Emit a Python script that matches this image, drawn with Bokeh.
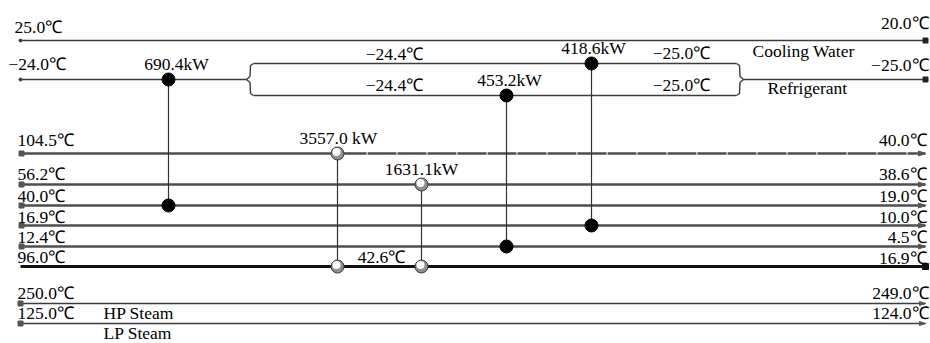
from bokeh.plotting import figure
from bokeh.models import Range1d
from bokeh.core.properties import value
from bokeh.embed import file_html
from bokeh.resources import INLINE

# ---- stream data (temperatures in degC) ----
hot_in = [104.5, 56.2, 40.0, 16.9, 12.4]
hot_out = [40.0, 38.6, 19.0, 10.0, 4.5]
cold_in = 16.9
cold_mid = 42.6
cold_out = 96.0
cw_in, cw_out = 20.0, 25.0
ref_in, ref_branch_out, ref_out = -25.0, -24.4, -24.0
hp_in, hp_out = 250.0, 249.0
lp_in, lp_out = 125.0, 124.0
utility_names = ["Cooling Water", "Refrigerant", "HP Steam", "LP Steam"]

# ---- exchanger duties (kW) ----
duties = [690.4, 453.2, 418.6, 3557.0, 1631.1]
duty_sep = ["", "", "", " ", ""]

# ---- grid layout (pixels, y grows downward) ----
W, H = 930, 343
X0, X1 = 20, 925
Y_CW, Y_REF, Y_UP, Y_LO = 40, 79, 63, 95
Y_HOT = [153, 184, 205, 225, 246]
Y_COLD = 266
Y_HP, Y_LP = 303, 323
BRACE_L, BRACE_R = 246, 743

ex_x = [168, 506, 591, 337, 421]
ex_top = [Y_REF, Y_LO, Y_UP, Y_HOT[0], Y_HOT[1]]
ex_bot = [Y_HOT[2], Y_HOT[4], Y_HOT[3], Y_COLD, Y_COLD]
ex_utility = [True, True, True, False, False]
ex_label_dx = [8, 3, 2, 1, 0]

FONT = value("Liberation Serif")
FS = "17.5px"
TEXT_DY = -6  # renderer places the baseline a little low


def degc(t):
    return f"{t:.1f}℃".replace("-", "−")


p = figure(width=W, height=H, x_range=Range1d(0, W), y_range=Range1d(H, 0),
           output_backend="svg", toolbar_location=None, min_border=0,
           x_axis_location=None, y_axis_location=None)
p.grid.visible = False
p.outline_line_color = None
p.background_fill_color = "white"
p.border_fill_color = "white"

THIN = dict(line_color="#3c3c3c", line_width=1.4)
THICK = dict(line_color="#4e4e4e", line_width=2.6)

# ---- utility lines: cooling water and refrigerant (flow right to left) ----
p.line([X0, X1], [Y_CW, Y_CW], **THIN)
p.line([X0, BRACE_L], [Y_REF, Y_REF], **THIN)
p.line([BRACE_R, X1], [Y_REF, Y_REF], **THIN)
p.line([BRACE_L + 7, BRACE_R - 7], [Y_UP, Y_UP], **THIN)
p.line([BRACE_L + 7, BRACE_R - 7], [Y_LO, Y_LO], **THIN)
# split / merge braces
for tip, s in ((BRACE_L, 1), (BRACE_R, -1)):
    bx = [tip + 7 * s, tip + 4 * s, tip + 3.5 * s, tip, tip + 3.5 * s, tip + 4 * s, tip + 7 * s]
    by = [Y_UP, Y_UP + 2, Y_REF - 3, Y_REF, Y_REF + 3, Y_LO - 2, Y_LO]
    p.line(bx, by, **THIN)
p.scatter([X0, X0], [Y_CW, Y_REF], size=3, color="#3c3c3c")
p.scatter([X1, X1], [Y_CW, Y_REF], marker="square", size=5, color="#222222")

# ---- hot process streams (left to right) ----
for i, y in enumerate(Y_HOT):
    if i == 0:
        p.line([X0, ex_x[3]], [y, y], **THICK)
        p.line([ex_x[3], X1], [y, y], line_dash="29 1", **THICK)
    else:
        p.line([X0, X1], [y, y], **THICK)
    p.scatter([X0 + 1], [y], marker="square", size=5, color="#555555")
    p.patch([X1 - 7, X1, X1 - 7], [y - 2.5, y, y + 2.5], color="#555555")

# ---- cold process stream (right to left) ----
p.line([X0, X1], [Y_COLD, Y_COLD], line_color="#111111", line_width=3)
p.scatter([X1], [Y_COLD], marker="square", size=6, color="#111111")

# ---- steam utilities (left to right) ----
for y in (Y_HP, Y_LP):
    p.line([X0, X1], [y, y], **THIN)
    p.scatter([X0], [y], marker="square", size=5, color="#555555")
    p.patch([X1 - 6, X1, X1 - 6], [y - 2, y, y + 2], color="#555555")

# ---- exchangers ----
for x, yt, yb in zip(ex_x, ex_top, ex_bot):
    p.line([x, x], [yt, yb], line_color="#333333", line_width=1.2)
fx = [x for x, u in zip(ex_x, ex_utility) if u]
fy_t = [y for y, u in zip(ex_top, ex_utility) if u]
fy_b = [y for y, u in zip(ex_bot, ex_utility) if u]
p.scatter(fx + fx, fy_t + fy_b, size=13, color="black")
ox = [x for x, u in zip(ex_x, ex_utility) if not u]
oy_t = [y for y, u in zip(ex_top, ex_utility) if not u]
oy_b = [y for y, u in zip(ex_bot, ex_utility) if not u]
p.scatter(ox + ox, oy_t + oy_b, size=13, fill_color="#8f8f8f", line_color="#3a3a3a", line_width=1)
p.scatter([x - 1 for x in ox + ox], [y - 1.5 for y in oy_t + oy_b], size=8,
          fill_color="white", line_color=None)

# ---- text ----
def txt(xs, ys, texts, align="left", fs=FS):
    p.text(xs, [y + TEXT_DY for y in ys], text=texts, text_font=FONT, text_font_size=fs,
           text_color="black", text_align=align, text_baseline="alphabetic")

# duties
txt([x + d for x, d in zip(ex_x, ex_label_dx)], [y - 10 for y in ex_top],
    [f"{q:.1f}{s}kW" for q, s in zip(duties, duty_sep)], align="center")

# utility end temperatures
txt([14, 8], [32, 69], [degc(cw_out), degc(ref_out)])
txt([928, 928], [28, 70], [degc(cw_in), degc(ref_in)], align="right")
txt([394, 394, 681, 681], [59, 90, 58, 90],
    [degc(ref_branch_out), degc(ref_branch_out), degc(ref_in), degc(ref_in)], align="center")
txt([752, 767], [56, 93], utility_names[:2])

# process stream temperatures
hot_base = [145, 179, 201, 222, 242]
txt([17] * 5, hot_base, [degc(t) for t in hot_in])
txt([926] * 5, hot_base, [degc(t) for t in hot_out], align="right")
txt([17], [262], [degc(cold_out)])
txt([926], [263], [degc(cold_in)], align="right")
txt([381], [262], [degc(cold_mid)], align="center")

# steam
txt([17, 17], [298, 318], [degc(hp_in), degc(lp_in)])
txt([928, 928], [298, 318], [degc(hp_out), degc(lp_out)], align="right")
txt([103, 103], [318, 338], utility_names[2:])

open("out.html", "w").write(file_html(p, INLINE))
